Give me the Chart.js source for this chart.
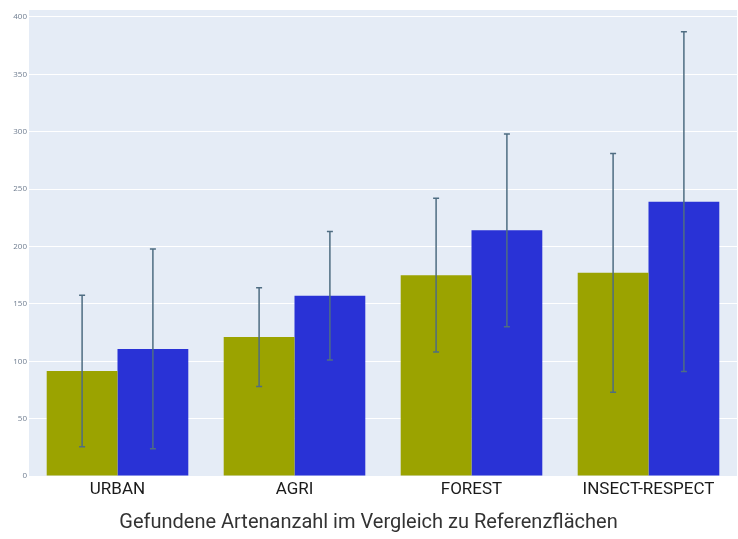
<!DOCTYPE html>
<html>
<head>
<meta charset="utf-8">
<script src="https://cdn.jsdelivr.net/npm/chart.js@4"></script>
<style>
  html, body { margin: 0; padding: 0; background: #fff; }
  #wrap { width: 738px; height: 539px; }
</style>
</head>
<body>
<div id="wrap"><canvas id="chart" width="738" height="539"></canvas></div>
<script>
  // ---------- DATA ----------
  const categories = ['URBAN', 'AGRI', 'FOREST', 'INSECT-RESPECT'];
  const referenzValues = [91.5, 121, 175, 177];
  const referenzErrors = [66, 43, 67, 104];
  const flaechenValues = [110.7, 157, 214, 239];
  const flaechenErrors = [87, 56, 84, 148];
  const yTicks = [0, 50, 100, 150, 200, 250, 300, 350, 400];
  const titleText = 'Gefundene Artenanzahl im Vergleich zu Referenzflächen';

  const errorsByDataset = [referenzErrors, flaechenErrors];

  // Hintergrund der Plotfläche
  const plotBackground = {
    id: 'plotBackground',
    beforeDraw(chart) {
      const { ctx, chartArea: a } = chart;
      ctx.save();
      ctx.fillStyle = '#e5ecf6';
      ctx.fillRect(a.left, a.top, a.right - a.left, a.bottom - a.top);
      ctx.restore();
    }
  };

  // Fehlerbalken über die y-Skala zeichnen
  const errorBars = {
    id: 'errorBars',
    afterDatasetsDraw(chart) {
      const { ctx } = chart;
      const yScale = chart.scales.y;
      ctx.save();
      ctx.strokeStyle = '#4f6d82';
      ctx.lineWidth = 1.5;
      chart.data.datasets.forEach((ds, di) => {
        const meta = chart.getDatasetMeta(di);
        meta.data.forEach((bar, i) => {
          const v = ds.data[i];
          const e = errorsByDataset[di][i];
          const yTop = yScale.getPixelForValue(v + e);
          const yBot = yScale.getPixelForValue(v - e);
          const x = bar.x;
          ctx.beginPath();
          ctx.moveTo(x, yTop); ctx.lineTo(x, yBot);
          ctx.moveTo(x - 3, yTop); ctx.lineTo(x + 3, yTop);
          ctx.moveTo(x - 3, yBot); ctx.lineTo(x + 3, yBot);
          ctx.stroke();
        });
      });
      ctx.restore();
    }
  };

  new Chart(document.getElementById('chart'), {
    type: 'bar',
    data: {
      labels: categories,
      datasets: [
        { label: 'Referenz', data: referenzValues, backgroundColor: '#9ba300' },
        { label: 'Fläche', data: flaechenValues, backgroundColor: '#2932d6' }
      ]
    },
    options: {
      responsive: false,
      animation: false,
      datasets: { bar: { barPercentage: 1, categoryPercentage: 0.8 } },
      layout: { padding: { top: 10, right: 1, left: 0, bottom: 0 } },
      plugins: {
        legend: { display: false },
        tooltip: { enabled: false },
        title: {
          display: true,
          position: 'bottom',
          text: titleText,
          color: '#333',
          font: { family: 'Roboto', size: 20, weight: 'normal' },
          padding: { top: 9, bottom: 4 }
        }
      },
      scales: {
        x: {
          grid: { display: false, drawTicks: false },
          border: { display: false },
          ticks: { color: '#1a1a1a', padding: 4, font: { family: 'Roboto', size: 17 } },
          afterFit(scale) { scale.height = 26; }
        },
        y: {
          min: 0,
          max: 406,
          afterBuildTicks(scale) { scale.ticks = yTicks.map(v => ({ value: v })); },
          grid: { color: '#ffffff', lineWidth: 1, drawTicks: false },
          border: { display: false },
          ticks: { color: '#6f7d90', padding: 2, font: { family: 'Open Sans', size: 8 } },
          afterFit(scale) { scale.width = 29; }
        }
      }
    },
    plugins: [plotBackground, errorBars]
  });
</script>
</body>
</html>
